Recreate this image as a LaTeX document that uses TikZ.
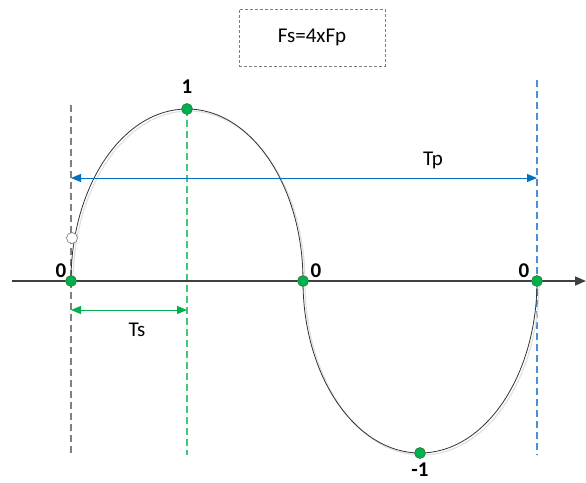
\documentclass[tikz,border=0pt]{standalone}
\usepackage{fontspec}
\setmainfont{Carlito}
\usetikzlibrary{arrows.meta}
\definecolor{dotgreen}{HTML}{00B050}
\definecolor{dotedge}{HTML}{2E7D32}
\definecolor{tpblue}{HTML}{0070C0}
\definecolor{axisgray}{HTML}{404040}
\definecolor{guidegreen}{HTML}{3CC97A}
\definecolor{guideblue}{HTML}{4A90D2}
\definecolor{guidegray}{HTML}{808080}
\begin{document}
\begin{tikzpicture}[x=1pt,y=-1pt,
  dot/.style={circle,fill=dotgreen,draw=dotedge,line width=0.6pt,minimum size=11pt,inner sep=0pt},
  opendot/.style={circle,fill=white,draw=gray,line width=0.7pt,minimum size=11pt,inner sep=0pt},
  lbl/.style={font=\bfseries\fontsize{21}{24}\selectfont,inner sep=0pt},
  guide/.style={line width=1.1pt,dash pattern=on 7pt off 4pt},
  dim/.style={line width=1pt,{Triangle[length=10pt,width=8pt]}-{Triangle[length=10pt,width=8pt]}}]
\useasboundingbox (0,0) rectangle (586,482);
% title box
\node[draw=guidegray,dash pattern=on 3pt off 2pt,line width=0.7pt,minimum width=146pt,minimum height=57pt,font=\fontsize{21}{24}\selectfont] (title) at (312,37.5) {Fs=4xFp};
% coordinates
\coordinate (ltop) at (71,105);
\coordinate (lbot) at (71,455);
\coordinate (gtop) at (187,109);
\coordinate (gbot) at (187,455);
\coordinate (btop) at (537,80);
\coordinate (bbot) at (537,455);
\coordinate (axL) at (12,281);
\coordinate (axR) at (586,281);
% guide lines
\draw[guide,color=guidegray] (ltop) -- (lbot);
\draw[guide,color=guidegreen] (gtop) -- (gbot);
\draw[guide,color=guideblue] (btop) -- (bbot);
% axis
\draw[axisgray,line width=1.6pt,-{Triangle[length=11pt,width=9pt]}] (axL) -- (axR);
% curve shadow and curve
\draw[black!12,line width=1.2pt,shift={(2,2)}] (71,281) arc[start angle=180,end angle=0,x radius=116,y radius=-172]
  arc[start angle=180,end angle=360,x radius=117,y radius=-172];
\draw[black!80,line width=0.8pt] (71,281) arc[start angle=180,end angle=0,x radius=116,y radius=-172]
  arc[start angle=180,end angle=360,x radius=117,y radius=-172];
% dots
\node[dot] (p0) at (71,281) {};
\node[dot] (p1) at (187,109) {};
\node[dot] (p2) at (303,281) {};
\node[dot] (p3) at (420,453) {};
\node[dot] (p4) at (537,281) {};
\node[opendot] (q) at (72,238) {};
% labels
\node[lbl] (l0) at (61,271) {0};
\node[lbl] (l1) at (187,87) {1};
\node[lbl] (l2) at (316,271) {0};
\node[lbl] (l4) at (524,271) {0};
\node[lbl] (l3) at (420,470) {-1};
% Tp
\coordinate (tpL) at (71,178);
\coordinate (tpR) at (537,178);
\draw[dim,tpblue] (tpL) -- (tpR);
\node[font=\fontsize{21}{24}\selectfont] (tp) at (433,160) {Tp};
% Ts
\coordinate (tsL) at (71,310);
\coordinate (tsR) at (187,310);
\draw[dim,dotgreen] (tsL) -- (tsR);
\node[font=\fontsize{21}{24}\selectfont] (ts) at (137,330) {Ts};
\end{tikzpicture}
\end{document}
